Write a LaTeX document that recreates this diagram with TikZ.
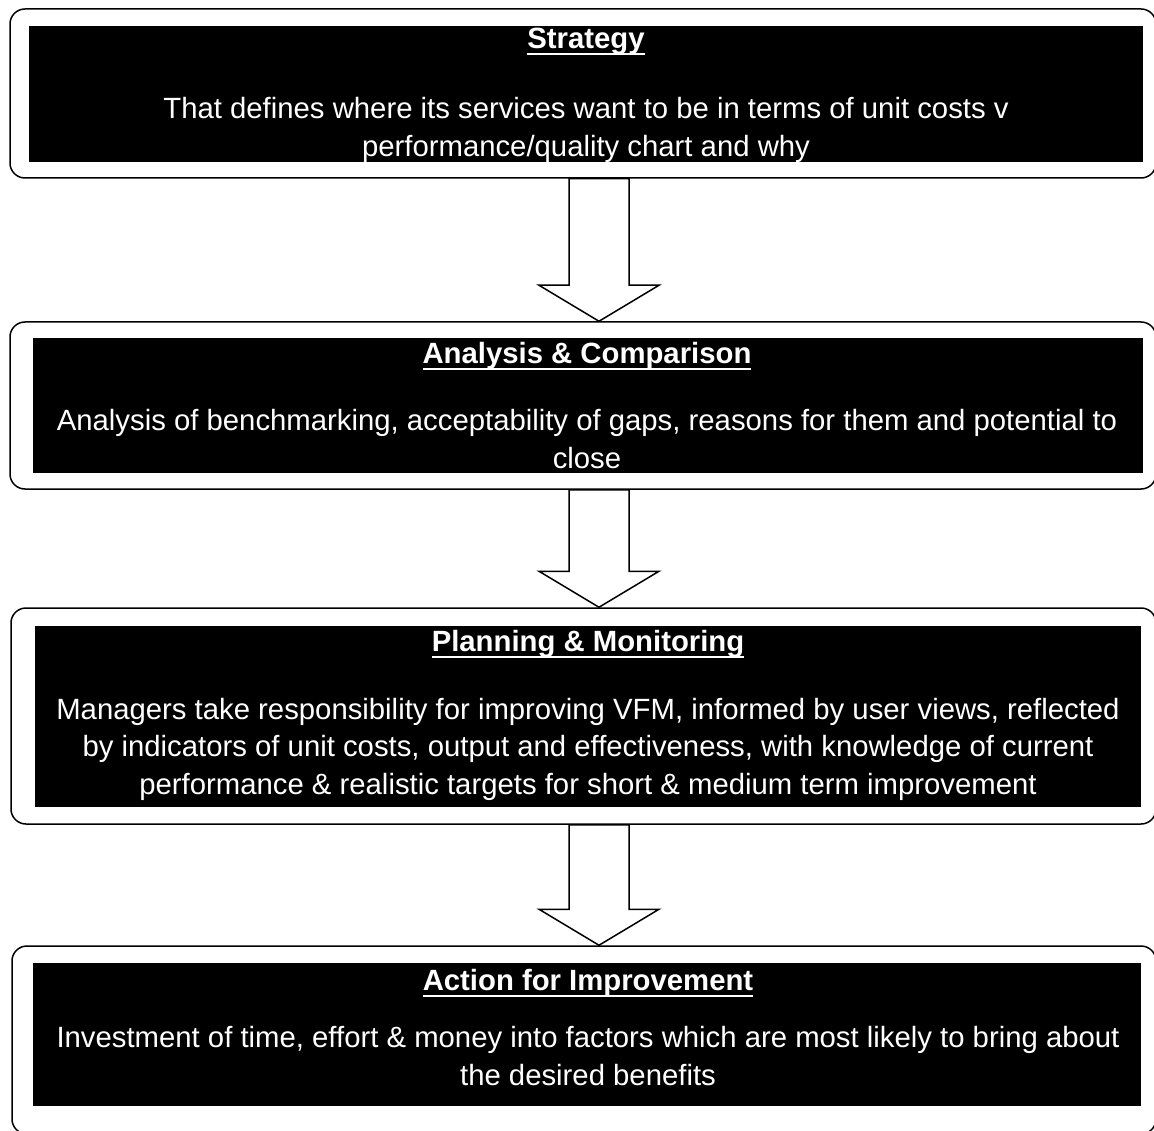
\documentclass[tikz,border=0pt]{standalone}
\usepackage{fontspec}
\setmainfont{Liberation Sans}
\usetikzlibrary{calc}
\newsavebox{\headbox}
\newcommand{\heading}[1]{\sbox{\headbox}{#1}\rlap{\rule[-6.5pt]{\wd\headbox}{2pt}}\usebox{\headbox}}

\begin{document}
\begin{tikzpicture}[x=1pt, y=-1pt]
  \tikzset{
    outer box/.style={draw, line width=1.5pt, rounded corners=15pt, fill=white},
    inner box/.style={fill=black, inner sep=0pt},
    heading text/.style={text=white, anchor=base, inner sep=0pt, font=\fontsize{29.3}{37.5}\selectfont\bfseries},
    body text/.style={text=white, anchor=base, align=center, inner sep=0pt, font=\fontsize{29.3}{37.5}\selectfont},
    block arrow/.style={draw, line width=1.5pt, fill=white, line join=miter}
  }
  \useasboundingbox (0,0) rectangle (1154,1131);
  \fill[white] (0,0) rectangle (1154,1131);
  \clip (0,0) rectangle (1154,1131);
  \coordinate (axis) at (599,0);

  \node[outer box, minimum width=1146, minimum height=169] (box-1) at (583,93.5) {};
  \node[inner box, minimum width=1114, minimum height=136] (inner-1) at (586,94) {};
  \node[heading text] (title-1) at (586,49) {\heading{Strategy}};
  \node[body text] (text-1) at (586,156.5) {That defines where its services want to be in terms of unit costs v\\performance/quality chart and why};

  \node[outer box, minimum width=1146, minimum height=167] (box-2) at (583,405.5) {};
  \node[inner box, minimum width=1110, minimum height=135] (inner-2) at (588,405.5) {};
  \node[heading text] (title-2) at (587,364) {\heading{Analysis \& Comparison}};
  \node[body text] (text-2) at (587,468) {Analysis of benchmarking, acceptability of gaps, reasons for them and potential to\\close};

  \node[outer box, minimum width=1145, minimum height=216] (box-3) at (583.5,716) {};
  \node[inner box, minimum width=1106, minimum height=181] (inner-3) at (588,716.5) {};
  \node[heading text] (title-3) at (588,651) {\heading{Planning \& Monitoring}};
  \node[body text] (text-3) at (588,794) {Managers take responsibility for improving VFM, informed by user views, reflected\\by indicators of unit costs, output and effectiveness, with knowledge of current\\performance \& realistic targets for short \& medium term improvement};

  \node[outer box, minimum width=1144, minimum height=188] (box-4) at (584,1040) {};
  \node[inner box, minimum width=1108, minimum height=143] (inner-4) at (587,1034.5) {};
  \node[heading text] (title-4) at (588,990) {\heading{Action for Improvement}};
  \node[body text] (text-4) at (588,1085) {Investment of time, effort \& money into factors which are most likely to bring about\\the desired benefits};

  \foreach \from/\to in {1/2,2/3,3/4}{
    \draw[block arrow] ($(box-\from.south -| axis)+(-30,0)$)
      -- ($(box-\to.north -| axis)+(-30,-36)$) -- ++(-30,0)
      -- (box-\to.north -| axis) -- ++(60,-36) -- ++(-30,0)
      -- ($(box-\from.south -| axis)+(30,0)$) -- cycle;
  }
\end{tikzpicture}
\end{document}
